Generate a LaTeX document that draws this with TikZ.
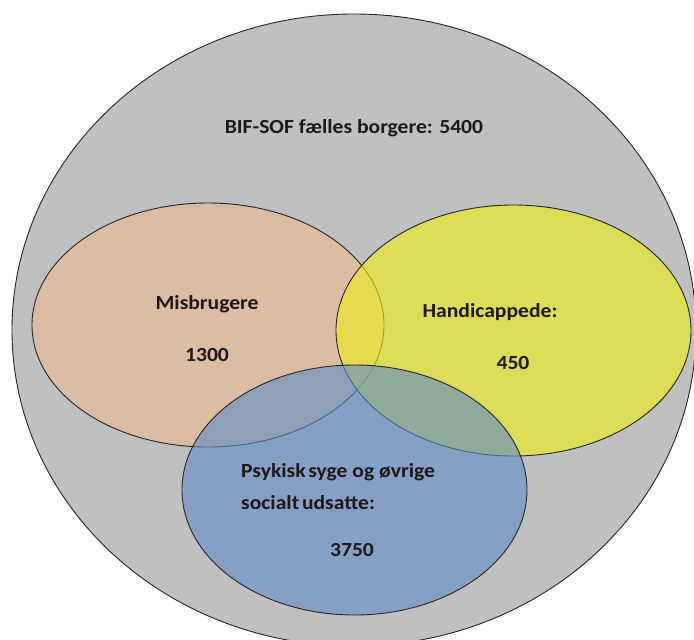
\documentclass[tikz,border=0pt]{standalone}
\usepackage{fontspec}
\setmainfont{Carlito}
\usetikzlibrary{shapes.geometric}
\definecolor{bggray}{RGB}{192,192,192}
\definecolor{peach}{RGB}{219,189,163}
\definecolor{yell}{RGB}{240,240,20}
\definecolor{blu}{RGB}{94,139,199}
\definecolor{txt}{RGB}{30,25,25}
\tikzset{
  set/.style={ellipse, draw=black!85, line width=0.9pt, inner sep=0pt},
  lbl/.style={font=\fontsize{20}{24}\selectfont\bfseries, text=txt, inner sep=0pt, xscale=1.08, transform shape},
}
\begin{document}
\begin{tikzpicture}[x=1pt,y=-1pt]
\useasboundingbox (0,0) rectangle (694,640);
\fill[white] (0,0) rectangle (694,640);
\node[set, fill=bggray, minimum width=684pt, minimum height=632pt] (all) at (354,330) {};
\node[set, fill=peach, minimum width=352pt, minimum height=244pt] (mis) at (208,325) {};
\node[set, fill=yell, fill opacity=0.6, minimum width=355pt, minimum height=251pt] (hand) at (513.5,330.5) {};
\node[set, fill=blu, fill opacity=0.6, minimum width=345pt, minimum height=250pt] (psy) at (354.5,490) {};
\node[lbl] (tall) at (354,128) {BIF-SOF fælles borgere: 5400};
\node[lbl] (tmis) at (207,304) {Misbrugere};
\node[lbl] (nmis) at (207,355) {1300};
\node[lbl] (thand) at (490,312) {Handicappede:};
\node[lbl] (nhand) at (513,363) {450};
\node[lbl, anchor=west] (tpsy1) at (241,472) {Psykisk\hspace{-0.1em} syge og øvrige};
\node[lbl, anchor=west] (tpsy2) at (241,503) {socialt\hspace{-0.1em} udsatte:};
\node[lbl] (npsy) at (352,550) {3750};
\end{tikzpicture}
\end{document}
